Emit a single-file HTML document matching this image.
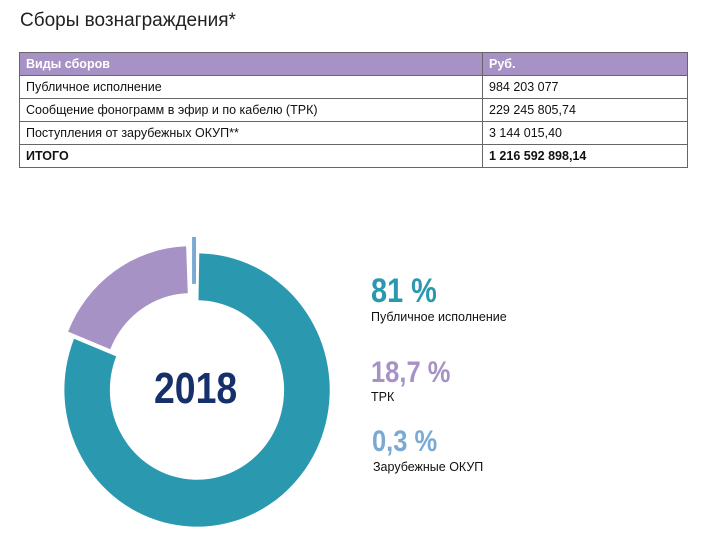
<!DOCTYPE html>
<html><head><meta charset="utf-8"><style>
body{margin:0;width:706px;height:558px;background:#fff;font-family:"Liberation Sans",sans-serif;position:relative;overflow:hidden}
.t{position:absolute;left:20px;top:10px;font-size:19px;color:#222}
table{position:absolute;left:19px;top:52px;width:669px;border-collapse:collapse;font-size:12.5px;color:#111}
td{border:1px solid #666;padding:0 6px;height:22px}
tr.h td{background:#a792c5;color:#fff;font-weight:bold;height:22px}
.c{position:absolute;font-family:"Liberation Sans Narrow","Liberation Sans",sans-serif;font-weight:bold;transform-origin:0 0}
.l{position:absolute;font-size:12.5px;color:#111;font-family:"Liberation Sans Narrow","Liberation Sans",sans-serif}
</style></head><body>
<div class="t">Сборы вознаграждения*</div>
<table>
<tr class="h"><td style="width:450px">Виды сборов</td><td>Руб.</td></tr>
<tr><td>Публичное исполнение</td><td>984 203 077</td></tr>
<tr><td>Сообщение фонограмм в эфир и по кабелю (ТРК)</td><td>229 245 805,74</td></tr>
<tr><td>Поступления от зарубежных ОКУП**</td><td>3 144 015,40</td></tr>
<tr><td><b>ИТОГО</b></td><td><b>1 216 592 898,14</b></td></tr>
</table>
<svg width="706" height="558" style="position:absolute;left:0;top:0">
<g transform="translate(197,390) scale(0.99,1.02)">
<path d="M2.3,-134 A134,134 0 1 1 -124.2,-50.2 L-81.6,-33 A88,88 0 1 0 1.5,-88 Z" fill="#2a99b0"/>
<g transform="translate(-6,-7)">
<path d="M-124.2,-50.2 A134,134 0 0 1 -5,-133.9 L-3.3,-88 A88,88 0 0 0 -81.6,-33 Z" fill="#a792c5"/>
</g>
<path d="M-5,-150 L-1,-150 L-1,-104 L-5,-104 Z" fill="#7aaad4"/>
</g>
</svg>
<div class="c" style="left:154px;top:364px;font-size:44px;color:#15306a;transform:scaleX(0.85)">2018</div>
<div class="c" style="left:371px;top:272px;font-size:34px;color:#2a99b0;transform:scaleX(0.85)">81 %</div>
<div class="l" style="left:371px;top:310px">Публичное исполнение</div>
<div class="c" style="left:371px;top:356px;font-size:30px;color:#a792c5;transform:scaleX(0.85)">18,7 %</div>
<div class="l" style="left:371px;top:390px">ТРК</div>
<div class="c" style="left:372px;top:425px;font-size:30px;color:#7aaad4;transform:scaleX(0.85)">0,3 %</div>
<div class="l" style="left:373px;top:460px">Зарубежные ОКУП</div>
</body></html>
